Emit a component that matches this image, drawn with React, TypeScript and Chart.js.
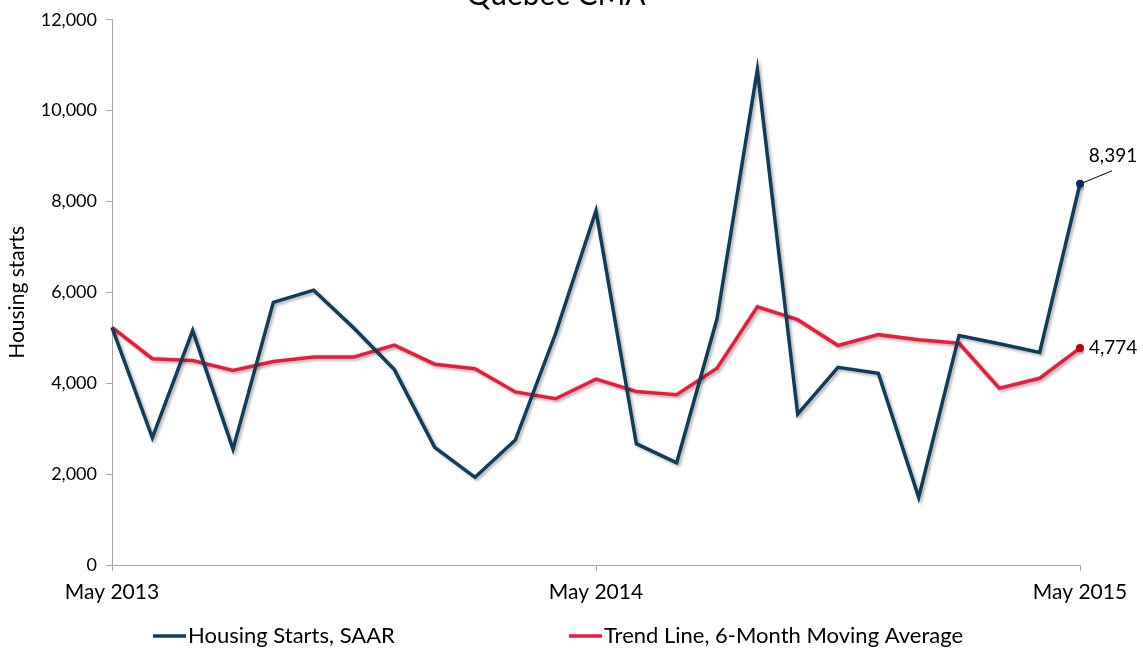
import React, { useEffect, useRef } from "react";
import { Chart, registerables } from "chart.js";

Chart.register(...registerables);

const months = [
  "May 2013", "Jun 2013", "Jul 2013", "Aug 2013", "Sep 2013", "Oct 2013", "Nov 2013", "Dec 2013",
  "Jan 2014", "Feb 2014", "Mar 2014", "Apr 2014", "May 2014", "Jun 2014", "Jul 2014", "Aug 2014",
  "Sep 2014", "Oct 2014", "Nov 2014", "Dec 2014", "Jan 2015", "Feb 2015", "Mar 2015", "Apr 2015",
  "May 2015",
];

const housingStarts = [
  5230, 2800, 5160, 2550, 5780, 6050, 5210, 4300, 2590, 1930, 2750, 5100, 7800,
  2670, 2250, 5420, 10900, 3320, 4350, 4220, 1490, 5050, 4870, 4680, 8391,
];

const trendLine = [
  5230, 4540, 4500, 4280, 4480, 4580, 4580, 4840, 4420, 4320, 3810, 3660, 4090,
  3820, 3750, 4330, 5680, 5400, 4830, 5070, 4960, 4880, 3890, 4110, 4774,
];

const seriesNames = ["Housing Starts, SAAR", "Trend Line, 6-Month Moving Average"];
const titleText = "Quebec CMA";
const yTitle = "Housing starts";

const BLUE = "#0f3d5a";
const RED = "#ec1b3b";
const FONT = "Lato, 'Open Sans', sans-serif";

export default function App() {
  const ref = useRef<HTMLCanvasElement | null>(null);

  useEffect(() => {
    document.body.style.margin = "0";
    const canvas = ref.current;
    if (!canvas) return;
    const last = months.length - 1;

    const shadowPlugin = {
      id: "shadow",
      beforeDatasetDraw(chart: any) {
        const ctx = chart.ctx;
        ctx.save();
        ctx.shadowColor = "rgba(0,0,0,0.3)";
        ctx.shadowBlur = 3;
        ctx.shadowOffsetX = 2;
        ctx.shadowOffsetY = 2;
      },
      afterDatasetDraw(chart: any) {
        chart.ctx.restore();
      },
    };

    const extrasPlugin = {
      id: "extras",
      afterDraw(chart: any) {
        const ctx = chart.ctx;
        ctx.save();
        // Title (partly cut at top)
        ctx.fillStyle = "#000";
        ctx.font = `30px ${FONT}`;
        ctx.textAlign = "center";
        ctx.textBaseline = "alphabetic";
        ctx.fillText(titleText, 556, 5);

        // Data labels
        const pB = chart.getDatasetMeta(0).data[last];
        const pR = chart.getDatasetMeta(1).data[last];
        ctx.font = `19px ${FONT}`;
        ctx.strokeStyle = "#000";
        ctx.lineWidth = 1;
        ctx.beginPath();
        ctx.moveTo(pB.x + 3, pB.y - 1);
        ctx.lineTo(pB.x + 32, pB.y - 13);
        ctx.stroke();
        ctx.textAlign = "center";
        ctx.textBaseline = "middle";
        ctx.fillText(housingStarts[last].toLocaleString("en-US"), pB.x + 33, pB.y - 28);
        ctx.textAlign = "left";
        ctx.fillText(trendLine[last].toLocaleString("en-US"), pR.x + 9, pR.y);

        // Legend
        const ly = 636;
        const items = [
          { x: 153, color: BLUE, text: seriesNames[0] },
          { x: 569, color: RED, text: seriesNames[1] },
        ];
        ctx.font = `22px ${FONT}`;
        ctx.lineWidth = 3.5;
        for (const it of items) {
          ctx.strokeStyle = it.color;
          ctx.beginPath();
          ctx.moveTo(it.x, ly);
          ctx.lineTo(it.x + 33, ly);
          ctx.stroke();
          ctx.fillStyle = "#000";
          ctx.textAlign = "left";
          ctx.textBaseline = "middle";
          ctx.fillText(it.text, it.x + 35, ly);
        }
        ctx.restore();
      },
    };

    const chart = new Chart(canvas, {
      type: "line",
      data: {
        labels: months,
        datasets: [
          {
            label: seriesNames[0],
            data: housingStarts,
            borderColor: BLUE,
            borderWidth: 3.5,
            pointRadius: housingStarts.map((_, i) => (i === last ? 4 : 0)),
            pointBackgroundColor: "#0b2a66",
            pointBorderWidth: 0,
            tension: 0,
          },
          {
            label: seriesNames[1],
            data: trendLine,
            borderColor: RED,
            borderWidth: 3.5,
            pointRadius: trendLine.map((_, i) => (i === last ? 4 : 0)),
            pointBackgroundColor: "#c00000",
            pointBorderWidth: 0,
            tension: 0,
          },
        ],
      },
      options: {
        animation: false,
        responsive: false,
        maintainAspectRatio: false,
        layout: { padding: { left: 0, right: 63, top: 16, bottom: 0 } },
        plugins: {
          legend: { display: false },
          tooltip: { enabled: false },
          title: { display: false },
        },
        scales: {
          x: {
            type: "category",
            offset: false,
            grid: {
              drawOnChartArea: false,
              tickLength: 6,
              tickColor: (c: any) => (c.index % 12 === 0 ? "#a6a6a6" : "rgba(0,0,0,0)"),
            },
            border: { color: "#a6a6a6", width: 1 },
            ticks: {
              autoSkip: false,
              maxRotation: 0,
              padding: 9,
              color: "#000",
              font: { family: FONT, size: 21 },
              callback: (_v: any, i: number) => (i % 12 === 0 ? months[i] : ""),
            },
            afterFit: (s: any) => {
              s.height = 87;
            },
          },
          y: {
            min: 0,
            max: 12000,
            grid: {
              drawOnChartArea: false,
              tickLength: 6,
              tickColor: "#a6a6a6",
            },
            border: { color: "#a6a6a6", width: 1 },
            ticks: {
              stepSize: 2000,
              padding: 9,
              color: "#000",
              font: { family: FONT, size: 18 },
              callback: (v: any) => Number(v).toLocaleString("en-US"),
            },
            title: {
              display: true,
              text: yTitle,
              color: "#000",
              font: { family: FONT, size: 21 },
              padding: { top: 5, bottom: 4 },
            },
            afterFit: (s: any) => {
              s.width = 112;
            },
          },
        },
      },
      plugins: [shadowPlugin, extrasPlugin],
    });
    return () => chart.destroy();
  }, []);

  return (
    <div style={{ position: "absolute", left: 0, top: 0, width: 1143, height: 652, background: "#fff" }}>
      <canvas ref={ref} width={1143} height={652} style={{ display: "block" }} />
    </div>
  );
}
